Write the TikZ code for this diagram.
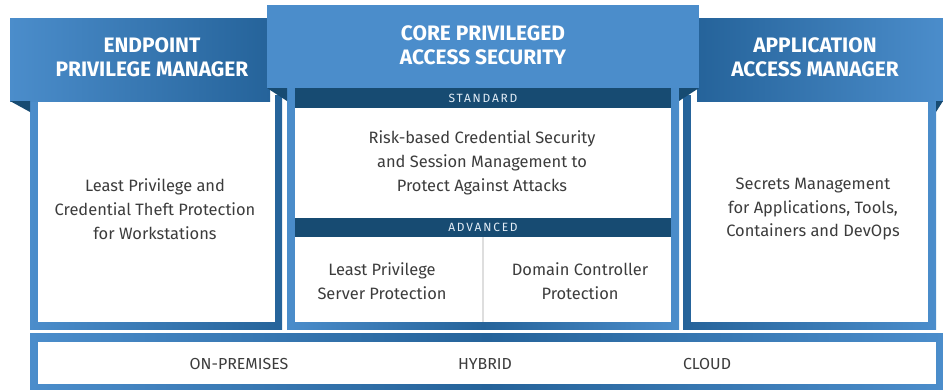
\documentclass[tikz,border=0pt]{standalone}
\usepackage{fontspec}
\setmainfont{Fira Sans}
\definecolor{lightblue}{HTML}{4B8DCB}
\definecolor{darkblue}{HTML}{25639A}
\definecolor{navy}{HTML}{174B72}
\definecolor{textgrey}{HTML}{3C3C3C}

\begin{document}
\begin{tikzpicture}[x=1bp,y=-1bp]
   \tikzset{Head/.style={text=white,font=\fontsize{21}{24}\selectfont\bfseries,align=center}}
   \tikzset{Body/.style={text=textgrey,font=\fontsize{16.5}{24}\selectfont,align=center}}
   \tikzset{Tag/.style={text=white!85!lightblue,font=\fontsize{12}{13}\selectfont\addfontfeature{LetterSpace=15}}}
   \tikzset{Place/.style={text=textgrey,font=\fontsize{16}{18}\selectfont}}
   \useasboundingbox (0,0) rectangle (943,389);
   \shade[left color=lightblue,right color=darkblue] (30,95) rectangle (282,329);
   \fill[white] (37.5,95) rectangle (275,322);
   \shade[left color=lightblue,right color=lightblue,middle color=darkblue] (287,85) rectangle (679,329);
   \fill[white] (295,85) rectangle (671,322);
   \shade[left color=darkblue,right color=lightblue] (683,95) rectangle (936,329);
   \fill[white] (691,95) rectangle (928,322);
   \shade[left color=lightblue,right color=lightblue,middle color=darkblue] (30,333) rectangle (943,389);
   \fill[white] (37.5,342) rectangle (936,384);
   \fill[navy] (295,85) rectangle (671,108);
   \fill[navy] (295,218) rectangle (671,237);
   \draw[black!13,line width=1.5bp] (483,237) -- (483,322);
   \shade[left color=lightblue,right color=darkblue] (10,18) rectangle (270,101);
   \shade[left color=darkblue,right color=lightblue] (697,18) rectangle (943,101);
   \fill[navy] (10,101) -- (30,101) -- (30,112) -- cycle;
   \fill[navy] (943,101) -- (936,101) -- (936,112) -- cycle;
   \fill[navy] (267,88) -- (287,88) -- (287,101) -- cycle;
   \fill[navy] (699,88) -- (679,88) -- (679,101) -- cycle;
   \fill[lightblue] (267,5) rectangle (699,88);
   \node[Head] (epm) at (152,57) {ENDPOINT\\PRIVILEGE MANAGER};
   \node[Head] (core) at (483,45) {CORE PRIVILEGED\\ACCESS SECURITY};
   \node[Head] (aam) at (815,57) {APPLICATION\\ACCESS MANAGER};
   \node[Tag] (std) at (483,98) {STANDARD};
   \node[Tag] (adv) at (483,227.5) {ADVANCED};
   \node[Body] (workst) at (155,209) {Least Privilege and\\Credential Theft Protection\\for Workstations};
   \node[Body] (risk) at (482,163) {Risk-based Credential Security\\and Session Management to\\Protect Against Attacks};
   \node[Body] (secrets) at (813,209) {Secrets Management\\for Applications, Tools,\\Containers and DevOps};
   \node[Body] (server) at (382,281) {Least Privilege\\Server Protection};
   \node[Body] (domain) at (580,281) {Domain Controller\\Protection};
   \node[Place] (onprem) at (239,364) {ON-PREMISES};
   \node[Place] (hybrid) at (485,364) {HYBRID};
   \node[Place] (cloud) at (707,364) {CLOUD};
\end{tikzpicture}
\end{document}
